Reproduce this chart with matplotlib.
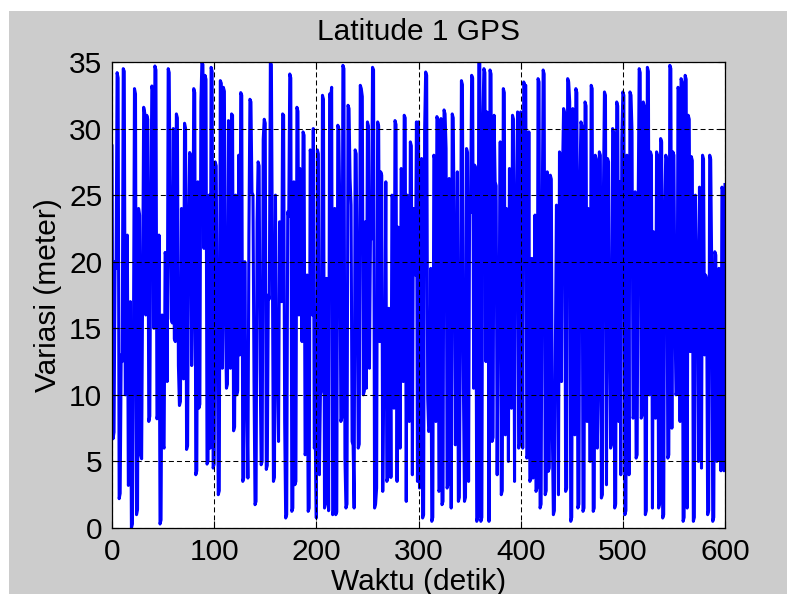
import matplotlib
matplotlib.use("Agg")
import matplotlib.pyplot as plt
import matplotlib.patches as mpatches
import numpy as np

plt.rcParams['font.family'] = ['Liberation Sans', 'DejaVu Sans']
plt.rcParams['lines.scale_dashes'] = False

# latitude variation per second (meter), t = 0 .. 600
lat_000 = [28.7, 6.7, 7.2, 20, 19.5, 34.2, 33.8, 2.2, 2.6, 13,
           12.5, 34.5, 34.3, 10, 10.4, 22, 3.2, 3.5, 17, 0,
           0.3, 14, 33, 32.6, 1, 1.4, 24, 23.5, 5.5, 5.2,
           19, 31.6, 31.2, 16, 31, 30.7, 8, 8.4, 24, 33.2,
           32.8, 15, 34.7, 34.4, 8.2, 8.6, 22, 0.3, 0.6, 16,
           6.2, 6, 20.7, 20.3, 11, 34.5, 34.2, 22, 15.7, 15.4,
           30, 14.2, 14, 31.1, 30.8, 12.2, 9.2, 9.5, 24, 11.5,
           11.2, 30.4, 30, 5.9, 6.2, 23, 28.2, 28, 12.2, 17,
           33, 32.7, 4, 4.3, 26, 9, 9.3, 32, 35, 34.8,
           21, 34, 33.7, 4.8, 5, 25, 6, 34.6, 34.3, 4.5]
lat_100 = [4.8, 27.5, 27.2, 14.8, 2.5, 2.8, 33.6, 33.4, 12, 33.1,
           32.8, 16, 10.5, 10.8, 30.6, 30.2, 12, 31.1, 31, 7.3,
           7.6, 25, 10, 10.3, 28, 13, 32.7, 32.5, 3.5, 3.8,
           20, 9.5, 9.8, 3.75, 22, 32.2, 32, 25.2, 25, 11,
           1.75, 2, 23, 27.5, 27.2, 12, 4.75, 5, 29.2, 30.7,
           30.4, 4.4, 4.7, 17.5, 17.2, 35, 34.8, 20, 3.5, 3.8,
           25, 11, 11.3, 6.5, 23, 22.6, 17, 31.1, 31, 8,
           0.75, 1, 23.75, 23.4, 34.1, 33.8, 1.25, 1.5, 26, 3.25,
           3.5, 31.6, 31.3, 16, 27, 26.7, 14, 29.75, 29.5, 5.5,
           5.8, 19, 1.25, 1.5, 28.4, 28, 16, 30, 6, 6.3]
lat_200 = [0.75, 28.4, 28.1, 4, 10, 10.3, 32.5, 32.2, 1.5, 1.8,
           18.75, 18.5, 1.3, 32.6, 32.3, 33.1, 1, 1.3, 24, 1,
           1.2, 30.25, 30, 23.5, 8, 8.3, 34.75, 34.5, 5.25, 1.5,
           1.8, 31.75, 31.5, 26.25, 24.25, 6.5, 6.2, 1.5, 28.4, 28.1,
           18.25, 6, 6.3, 33.25, 33, 32.4, 10, 10.3, 23, 10.5,
           30.5, 30.2, 12, 22, 21.7, 34.6, 34.4, 1.5, 1.8, 3,
           30.5, 30.2, 14, 26.75, 26.5, 2.75, 11, 11.3, 26, 3.5,
           3.8, 16.5, 16.2, 3.8, 25, 24.7, 9, 30.6, 30.3, 3.5,
           22.6, 22.3, 6, 27, 26.7, 11, 31, 30.8, 2, 25,
           24.7, 8, 29, 28.7, 4, 24, 23.7, 19, 30.5, 3.5]
lat_300 = [30.5, 3, 3.3, 27.75, 0.75, 1, 29.9, 34.25, 34, 9.75,
           7.25, 7.5, 19.5, 0.5, 0.8, 28, 27.7, 8, 30.9, 30.6,
           2.75, 3, 30.75, 1.75, 2, 31.4, 31.1, 28.5, 3, 3.3,
           26.25, 26, 1.5, 31.1, 30.8, 21.5, 6.25, 6.5, 26.75, 2,
           2.3, 14.8, 33.6, 33.3, 10.25, 2, 2.3, 28.5, 28.2, 3.5,
           24, 23.7, 34, 33.8, 10.5, 27.25, 27, 0.5, 0.8, 35,
           35, 0.5, 0.8, 30.75, 34.5, 34.2, 12.5, 31.25, 31, 0.5,
           34.4, 34.1, 6.5, 6.8, 31, 26, 25.7, 4, 18, 17.7,
           29, 2.5, 2.8, 33, 32.7, 7, 24, 23.7, 5, 27,
           26.7, 9, 31, 30.7, 3.5, 25, 24.7, 31.25, 6, 6.3]
lat_400 = [31.25, 31, 6, 33.5, 33.2, 33.25, 5.25, 5.5, 29.75, 3.5,
           3.8, 20.25, 3.75, 4, 23.5, 2.75, 3, 33.75, 33.5, 1.5,
           1.8, 22, 34.4, 34.1, 2.5, 2.8, 26.75, 4.25, 4.5, 26.5,
           26.2, 7.25, 1, 1.3, 13.5, 24.25, 24, 2.5, 28.25, 28,
           11, 26.75, 31.5, 31.2, 2.75, 3, 33.75, 33.5, 32, 0.5,
           0.8, 31.5, 31.2, 7, 33, 32.7, 1.5, 1.8, 26, 30.5,
           30.2, 1.25, 1.5, 32, 31.7, 8, 24, 23.7, 5, 33.25,
           33, 1.25, 1.5, 28, 27.7, 6, 11, 28.25, 28, 2.25,
           2.5, 25, 32.75, 32.5, 3.25, 27.75, 27.5, 15, 6, 6.3,
           30, 29.7, 1.5, 1.8, 32, 31.7, 8, 26, 4, 29]
lat_500 = [32.75, 32.5, 1, 1.3, 28, 27.7, 4, 32.75, 32.5, 29.75,
           8.25, 8.5, 25.25, 5.25, 5.5, 24, 34.5, 34.2, 8.25, 8.5,
           32, 31.7, 1, 1.3, 34.6, 34.3, 10, 28.25, 28, 1.5,
           22.25, 22, 8.25, 28.25, 28, 1.5, 1.8, 29.25, 29, 0.75,
           1, 24, 28, 27.7, 5.25, 5.5, 34.75, 34.5, 7.5, 28.25,
           28, 16.5, 10, 10.3, 33.1, 32.8, 8, 33.75, 33.5, 0.5,
           0.8, 34, 33.7, 1.5, 31, 30.7, 13.25, 27.9, 27.6, 0.5,
           0.8, 25, 20.75, 20.5, 5, 25.6, 25.3, 4.5, 28, 27.7,
           13, 19, 18.7, 1, 1.3, 28, 27.7, 19.5, 0.5, 0.8,
           20.75, 20.5, 5, 5.3, 19.5, 19.2, 4.3, 25.6, 25.3, 4.3,
           25.8]

variasi = np.array(lat_000 + lat_100 + lat_200 + lat_300 + lat_400 + lat_500)
waktu = np.arange(len(variasi))

fig = plt.figure(figsize=(7.87, 5.94), dpi=100, facecolor='white')
# grey figure panel, white strip on top and left
fig.patches.append(mpatches.Rectangle((9 / 787, 0), 1, 583 / 594,
                                      transform=fig.transFigure,
                                      facecolor='#cccccc', edgecolor='none',
                                      zorder=-1))

ax = fig.add_axes([112 / 787, 66 / 594, 613 / 787, 466 / 594])
ax.set_facecolor('white')
ax.plot(waktu, variasi, color='#0000ff', lw=2.2, zorder=2)

ax.set_xlim(0, 600)
ax.set_ylim(0, 35)
ax.set_xticks(np.arange(0, 601, 100))
ax.set_yticks(np.arange(0, 36, 5))

ax.grid(True, color='black', lw=0.75, linestyle=(0, (3.6, 2.2)))
ax.set_axisbelow(False)
for sp in ax.spines.values():
    sp.set_linewidth(0.9)
    sp.set_color('black')
    sp.set_zorder(5)

ax.tick_params(direction='in', top=True, right=True, length=5, width=0.8,
               labelsize=21.5, pad=7)

ax.set_title('Latitude 1 GPS', fontsize=21.5, pad=16)
ax.set_xlabel('Waktu (detik)', fontsize=21.5, labelpad=2)
ax.set_ylabel('Variasi (meter)', fontsize=21.5, labelpad=5)

fig.savefig('out.png', dpi=100, facecolor=fig.get_facecolor())
